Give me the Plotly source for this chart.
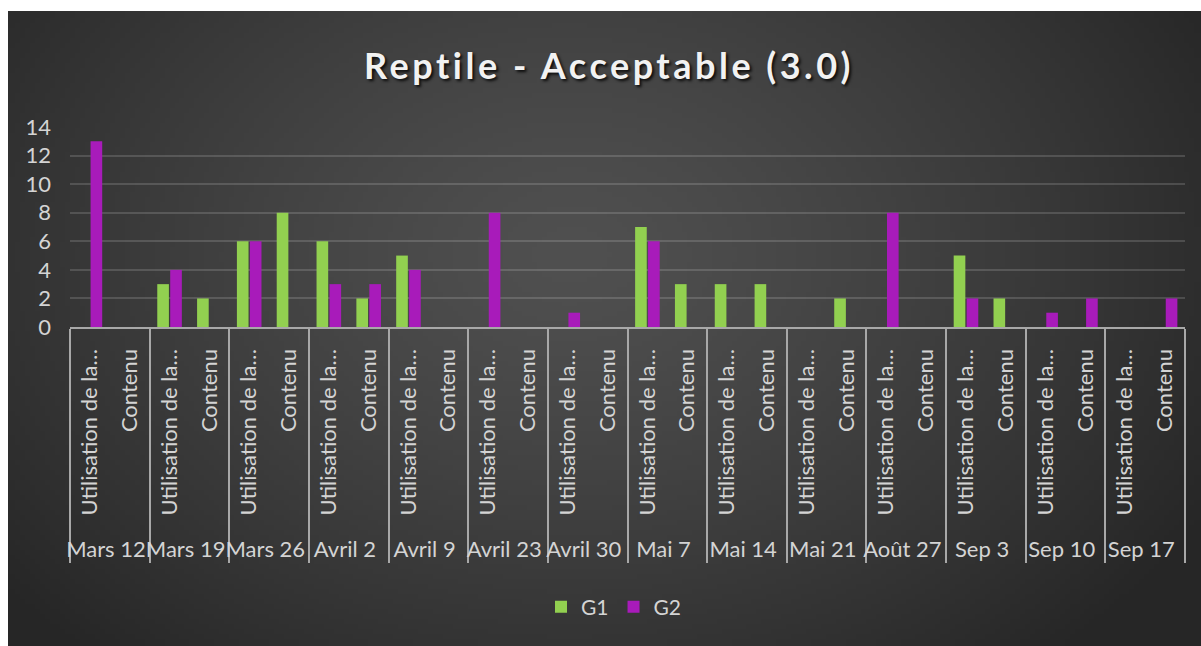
import struct, zlib, base64
import numpy as np
import plotly.graph_objects as go

# ---------------- data ----------------
dates = ["Mars 12", "Mars 19", "Mars 26", "Avril 2", "Avril 9", "Avril 23", "Avril 30",
         "Mai 7", "Mai 14", "Mai 21", "Août 27", "Sep 3", "Sep 10", "Sep 17"]
subcats = ["Utilisation de la…", "Contenu"]

g1_util = [0, 3, 6, 6, 5, 0, 0, 7, 3, 0, 0, 5, 0, 0]
g1_cont = [0, 2, 8, 2, 0, 0, 0, 3, 3, 2, 0, 2, 0, 0]
g2_util = [13, 4, 6, 3, 4, 8, 1, 6, 0, 0, 8, 2, 1, 0]
g2_cont = [0, 0, 0, 3, 0, 0, 0, 0, 0, 0, 0, 0, 2, 2]

y_ticks = [0, 2, 4, 6, 8, 10, 12, 14]

# ---------------- build multicategory x ----------------
PAD = "\u00a0\u00a0"  # pushes rotated labels a little away from the axis line
lvl0, lvl1, g1, g2 = [], [], [], []
for i, d in enumerate(dates):
    for j, s in enumerate(subcats):
        lvl0.append(d)
        lvl1.append(s + PAD)
        g1.append(g1_util[i] if j == 0 else g1_cont[i])
        g2.append(g2_util[i] if j == 0 else g2_cont[i])

# ---------------- background gradient image (PNG) ----------------
W, H = 240, 128
yy, xx = np.mgrid[0:H, 0:W]
cx, cy = 0.47 * W, 0.38 * H
r = np.sqrt(((xx - cx) / (0.62 * W)) ** 2 + ((yy - cy) / (0.85 * H)) ** 2)
r = np.clip(r, 0, 1)
inner, outer = 80, 38
val = (inner + (outer - inner) * r ** 1.3).astype(np.uint8)
raw = b"".join(b"\x00" + bytes(np.repeat(val[row], 3)) for row in range(H))

def chunk(tag, data):
    c = struct.pack(">I", len(data)) + tag + data
    return c + struct.pack(">I", zlib.crc32(tag + data) & 0xffffffff)

png = (b"\x89PNG\r\n\x1a\n" + chunk(b"IHDR", struct.pack(">IIBBBBB", W, H, 8, 2, 0, 0, 0))
       + chunk(b"IDAT", zlib.compress(raw, 9)) + chunk(b"IEND", b""))
bg_src = "data:image/png;base64," + base64.b64encode(png).decode()

# ---------------- figure ----------------
FONT = "Lato"
TXT = "#d4d4d4"
fig = go.Figure()
fig.add_trace(go.Bar(x=[lvl0, lvl1], y=g1, name="G1", marker=dict(color="#92D050", line=dict(width=0))))
fig.add_trace(go.Bar(x=[lvl0, lvl1], y=g2, name="G2", marker=dict(color="#A81BBA", line=dict(width=0))))

L, R, T, B = 70, 16, 127, 319
PW, PH = 1201 - L - R, 646 - T - B

def px2paper_x(px):
    return (px - L) / PW

def px2paper_y(py):
    return (646 - B - py) / PH

title_text = '<span style="letter-spacing:3.5px"><b>Reptile - Acceptable (3.0)</b></span>'

fig.update_layout(
    width=1201, height=646,
    margin=dict(l=L, r=R, t=T, b=B, autoexpand=False),
    paper_bgcolor="white",
    plot_bgcolor="rgba(0,0,0,0)",
    barmode="group", bargap=0.35, bargroupgap=0.1,
    font=dict(family=FONT, color=TXT, size=20),
    title=dict(text=title_text, x=609 / 1201, xref="container",
               xanchor="center", y=1 - 66 / 646, yanchor="middle",
               font=dict(family=FONT, size=36, color="#f2f2f2",
                         shadow="2px 2px 3px rgba(0,0,0,0.85)")),
    legend=dict(orientation="h", x=px2paper_x(614), xanchor="center",
                y=px2paper_y(607), yanchor="middle",
                font=dict(family=FONT, size=21, color=TXT),
                bgcolor="rgba(0,0,0,0)", itemwidth=30, tracegroupgap=0),
    images=[dict(source=bg_src, xref="paper", yref="paper",
                 x=px2paper_x(8), y=px2paper_y(11),
                 sizex=(1201 - 8) / PW, sizey=(646 - 11) / PH,
                 xanchor="left", yanchor="top", sizing="stretch", layer="below")],
)
fig.update_yaxes(range=[0, 14], tickvals=y_ticks, showgrid=True,
                 gridcolor="rgba(255,255,255,0.15)", gridwidth=2,
                 zeroline=False, showline=False, ticks="",
                 tickfont=dict(family=FONT, size=22, color=TXT),
                 ticklabelstandoff=18, fixedrange=True)
fig.update_xaxes(type="multicategory", tickangle=-90, showline=True,
                 linecolor="#a8a8a8", linewidth=2,
                 ticks="outside", ticklen=10, tickcolor="rgba(0,0,0,0)",
                 showdividers=True, dividercolor="#a8a8a8", dividerwidth=2,
                 tickfont=dict(family=FONT, size=22, color=TXT),
                 showgrid=False, fixedrange=True)

fig.write_html("out.html")
